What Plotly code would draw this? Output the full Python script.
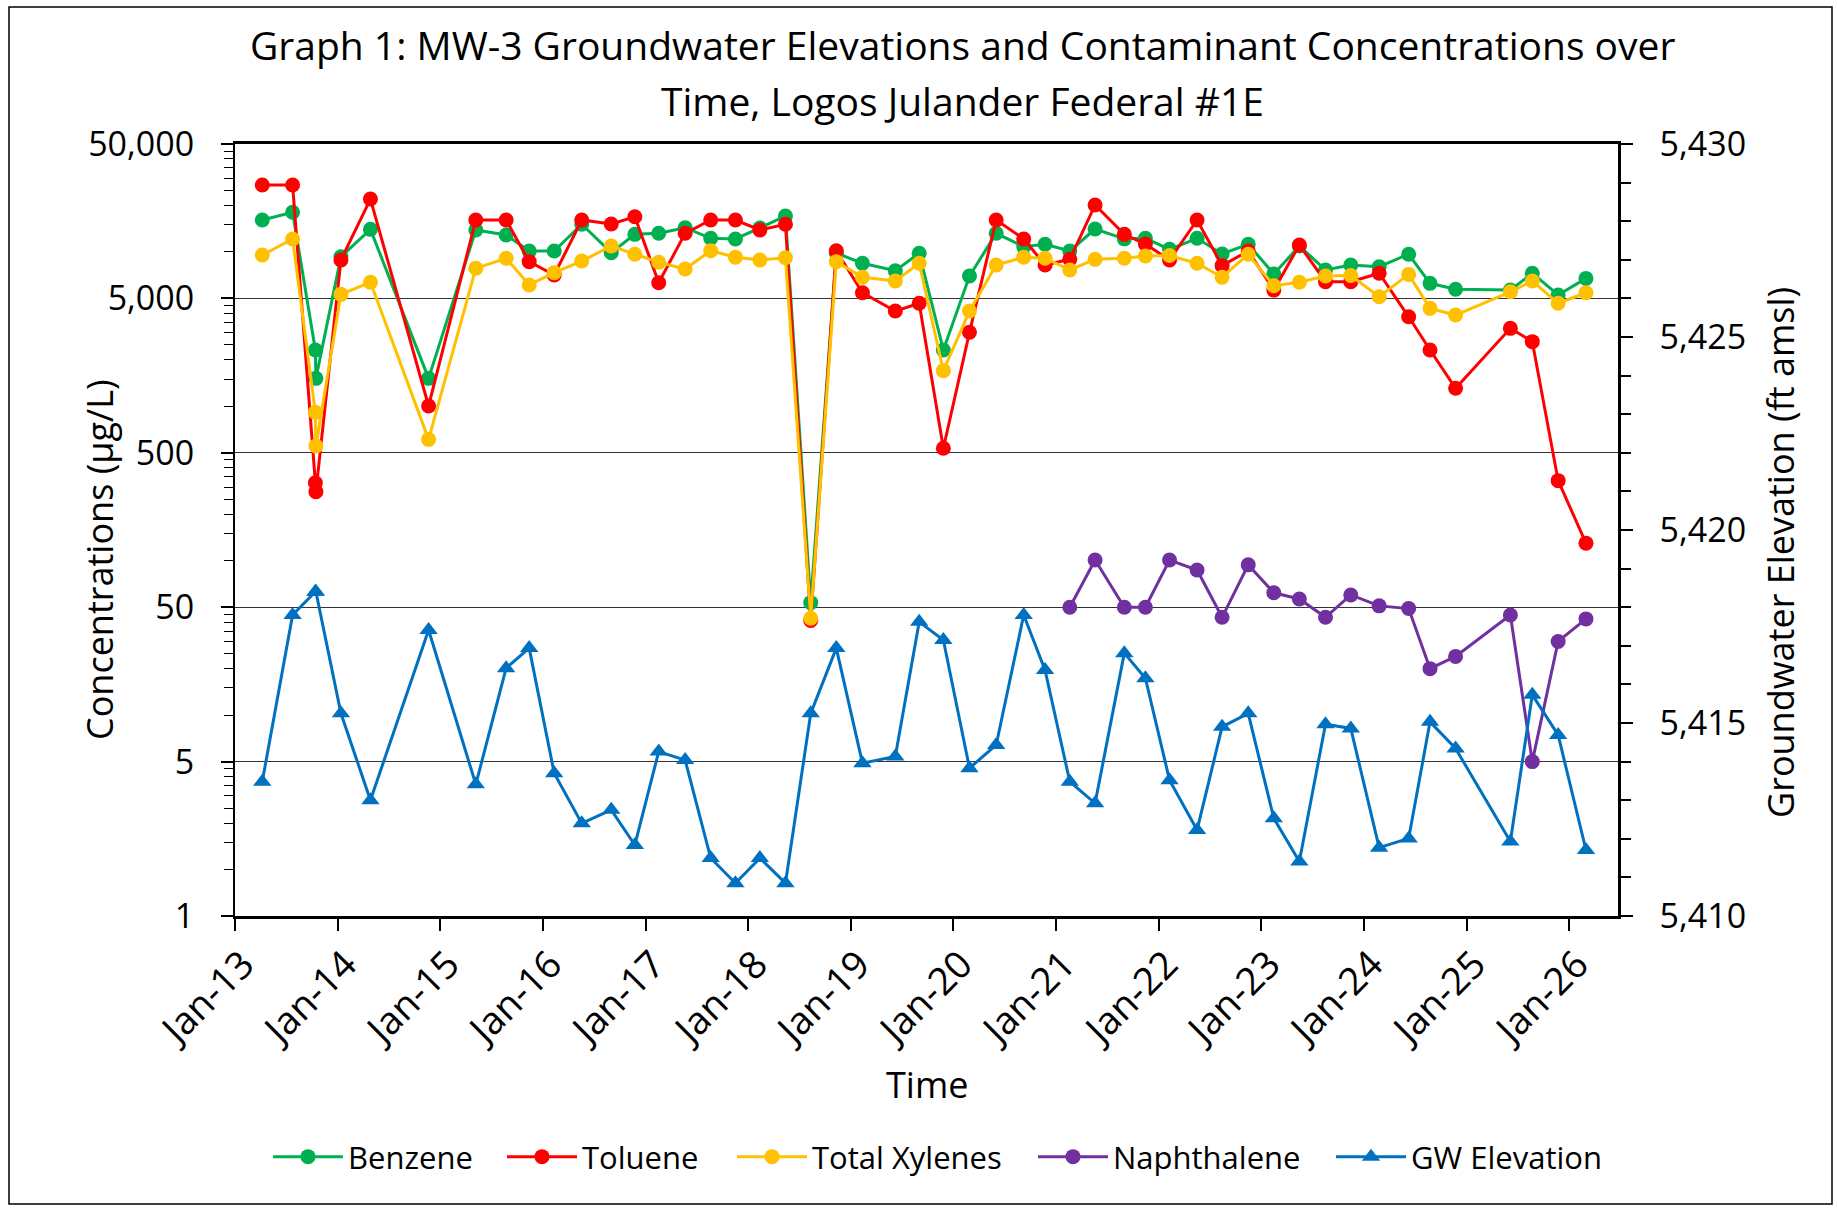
import math
import plotly.graph_objects as go

# ---------------- data ----------------
dates = [
    "2013-04-08", "2013-07-25", "2013-10-14", "2013-10-16", "2014-01-13", "2014-04-28", "2014-11-21",
    "2015-05-08", "2015-08-24", "2015-11-14", "2016-02-11", "2016-05-19", "2016-09-01", "2016-11-24",
    "2017-02-17", "2017-05-22", "2017-08-21", "2017-11-17", "2018-02-12", "2018-05-14", "2018-08-12",
    "2018-11-11", "2019-02-12", "2019-06-09", "2019-09-02", "2019-11-27", "2020-02-28", "2020-06-02",
    "2020-09-08", "2020-11-23", "2021-02-19", "2021-05-20", "2021-09-01", "2021-11-15", "2022-02-09",
    "2022-05-18", "2022-08-15", "2022-11-16", "2023-02-15", "2023-05-17", "2023-08-18", "2023-11-16",
    "2024-02-25", "2024-06-09", "2024-08-24", "2024-11-23", "2025-06-06", "2025-08-23", "2025-11-23",
    "2026-03-02",
]

benzene = [
    16100, 18070, 2317, 1518, 9310, 14000, 1518, 13870, 12880, 10140,
    10140, 15100, 9890, 13000, 13200, 14350, 12250, 12130, 14290, 17100,
    53.5, 9840, 8440, 7560, 9800, 2317, 6980, 13200, 10810, 11200,
    10140, 14070, 12150, 12250, 10400, 12250, 9700, 11200, 7200, 10920,
    7640, 8230, 8020, 9660, 6260, 5730, 5660, 7280, 5260, 6740,
]

toluene = [
    27130, 27130, 320, 280, 8870, 22000, 1005, 16100, 16100, 8650,
    7090, 16100, 15170, 16900, 6320, 13200, 16100, 16100, 13870, 15100,
    41, 10180, 5440, 4140, 4650, 535, 3015, 16100, 12130, 8230,
    8960, 20140, 13000, 11250, 8870, 16100, 8150, 10140, 5660, 11090,
    6410, 6410, 7280, 3800, 2317, 1309, 3200, 2624, 330, 130,
]

xylenes = [
    9550, 12130, 914, 553, 5310, 6360, 611, 7830, 9100, 6110,
    7340, 8730, 10920, 9660, 8570, 7750, 10180, 9230, 8870, 9160,
    42.4, 8650, 6850, 6480, 8440, 1702, 4140, 8230, 9230, 9100,
    7640, 8950, 9100, 9410, 9480, 8440, 6850, 9660, 6040, 6360,
    6980, 7030, 5130, 7150, 4310, 3900, 5520, 6480, 4650, 5440,
]

naphthalene = [None] * 30 + [
    50, 101, 50, 50, 101, 87, 43, 94, 62, 56.5,
    43, 60, 51, 49, 20, 24, 44.5, 5, 30, 42,
]

gw_elevation = [
    5413.48, 5417.80, 5418.40, 5418.40, 5415.25, 5413.00, 5417.41, 5413.41, 5416.42, 5416.94,
    5413.70, 5412.40, 5412.75, 5411.84, 5414.26, 5414.04, 5411.50, 5410.85, 5411.50, 5410.85,
    5415.25, 5416.94, 5413.96, 5414.13, 5417.62, 5417.15, 5413.83, 5414.43, 5417.80, 5416.37,
    5413.48, 5412.92, 5416.81, 5416.16, 5413.52, 5412.23, 5414.90, 5415.25, 5412.53, 5411.41,
    5414.97, 5414.86, 5411.77, 5412.01, 5415.03, 5414.34, 5411.93, 5415.73, 5414.69, 5411.71,
]

conc_tickvals = [0.5, 5, 50, 500, 5000, 50000]
conc_ticktext = ["1", "5", "50", "500", "5,000", "50,000"]
gw_tickvals = [5410, 5415, 5420, 5425, 5430]

title_line1 = "Graph 1: MW-3 Groundwater Elevations and Contaminant Concentrations over"
title_line2 = "Time, Logos Julander Federal #1E"

# ---------------- styling ----------------
FONT = "Open Sans"
W, H = 1837, 1210
L, R, T, B = 235, 1618, 144, 916  # plot area in px


def px_x(px):
    return (px - L) / (R - L)


def px_y(py):
    return (B - py) / (B - T)


fig = go.Figure()

series = [
    ("Benzene", benzene, "#00B050", "circle", 15, "y"),
    ("Toluene", toluene, "#FF0000", "circle", 15, "y"),
    ("Total Xylenes", xylenes, "#FFC000", "circle", 15, "y"),
    ("Naphthalene", naphthalene, "#7030A0", "circle", 15, "y"),
    ("GW Elevation", gw_elevation, "#0070C0", "triangle-up", 16, "y2"),
]
legend_x_px = [268, 502, 732, 1033, 1331]  # left edge of each legend entry

layout_legends = {}
for i, (name, vals, col, sym, sz, ax) in enumerate(series):
    lg = "legend" if i == 0 else f"legend{i + 1}"
    fig.add_trace(go.Scatter(
        x=dates, y=vals, name=name, mode="lines+markers",
        line=dict(color=col, width=3),
        marker=dict(symbol=sym, size=sz, color=col),
        connectgaps=False, yaxis=ax, legend=lg,
    ))
    layout_legends[lg] = dict(
        orientation="h", x=px_x(legend_x_px[i]), xanchor="left",
        y=px_y(1157), yanchor="middle",
        font=dict(size=31, family=FONT, color="black"), itemwidth=70,
        bgcolor="rgba(0,0,0,0)", borderwidth=0,
    )

minor_vals = [k * b for b in conc_tickvals[:-1] for k in range(2, 10)]

fig.update_layout(
    width=W, height=H,
    margin=dict(l=L, r=W - R, t=T, b=H - B, pad=0),
    plot_bgcolor="white", paper_bgcolor="white",
    font=dict(family=FONT, color="black"),
    showlegend=True,
    xaxis=dict(
        type="date", range=["2013-01-01", "2026-06-24"],
        tick0="2013-01-01", dtick="M12", tickformat="%b-%y", tickangle=-45,
        ticks="outside", ticklen=12, tickwidth=1.5, tickcolor="black",
        showline=True, linecolor="black", linewidth=2.5, mirror=True,
        showgrid=False, zeroline=False, ticklabelshift=8, ticklabelstandoff=-4,
        tickfont=dict(size=38, family=FONT, color="black"),
    ),
    yaxis=dict(
        type="log", range=[math.log10(0.5), math.log10(50000)],
        tickmode="array", tickvals=conc_tickvals, ticktext=conc_ticktext,
        ticks="outside", ticklen=12, tickwidth=1.5, tickcolor="black",
        showline=True, linecolor="black", linewidth=2,
        showgrid=True, gridcolor="#333333", gridwidth=1.2,
        zeroline=False, ticklabelstandoff=20,
        tickfont=dict(size=34, family=FONT, color="black"),
        minor=dict(tickmode="array", tickvals=minor_vals, ticks="outside",
                   ticklen=9, tickwidth=1.2, tickcolor="black", showgrid=False),
    ),
    yaxis2=dict(
        overlaying="y", side="right", range=[5410, 5430],
        tickmode="array", tickvals=gw_tickvals, tickformat=",",
        ticks="outside", ticklen=12, tickwidth=2, tickcolor="black",
        showline=True, linecolor="black", linewidth=2.5,
        showgrid=False, zeroline=False, ticklabelstandoff=20,
        tickfont=dict(size=34, family=FONT, color="black"),
        minor=dict(dtick=1, tick0=5410, ticks="outside", ticklen=10, tickwidth=2,
                   tickcolor="black", showgrid=False),
    ),
    **layout_legends,
)

annotations = [
    dict(text=title_line1, x=px_x(962), y=px_y(45), xanchor="center", yanchor="middle",
         font=dict(size=39, family=FONT, color="black")),
    dict(text=title_line2, x=px_x(962), y=px_y(100), xanchor="center", yanchor="middle",
         font=dict(size=39, family=FONT, color="black")),
    dict(text="Concentrations (µg/L)", x=px_x(99), y=px_y(560), textangle=-90,
         xanchor="center", yanchor="middle", font=dict(size=36, family=FONT, color="black")),
    dict(text="Groundwater Elevation (ft amsl)", x=px_x(1780), y=px_y(552), textangle=-90,
         xanchor="center", yanchor="middle", font=dict(size=36, family=FONT, color="black")),
    dict(text="Time", x=px_x(927), y=px_y(1084), xanchor="center", yanchor="middle",
         font=dict(size=36, family=FONT, color="black")),
]
for a in annotations:
    a.update(xref="paper", yref="paper", showarrow=False)
fig.update_layout(annotations=annotations)

fig.add_shape(type="rect", xref="paper", yref="paper",
              x0=px_x(9), x1=px_x(1832), y0=px_y(1204), y1=px_y(7),
              line=dict(color="black", width=1.5), fillcolor="rgba(0,0,0,0)", layer="below")

fig.write_html("out.html", config={"displayModeBar": False},
               post_script="document.body.style.margin='0px';")
